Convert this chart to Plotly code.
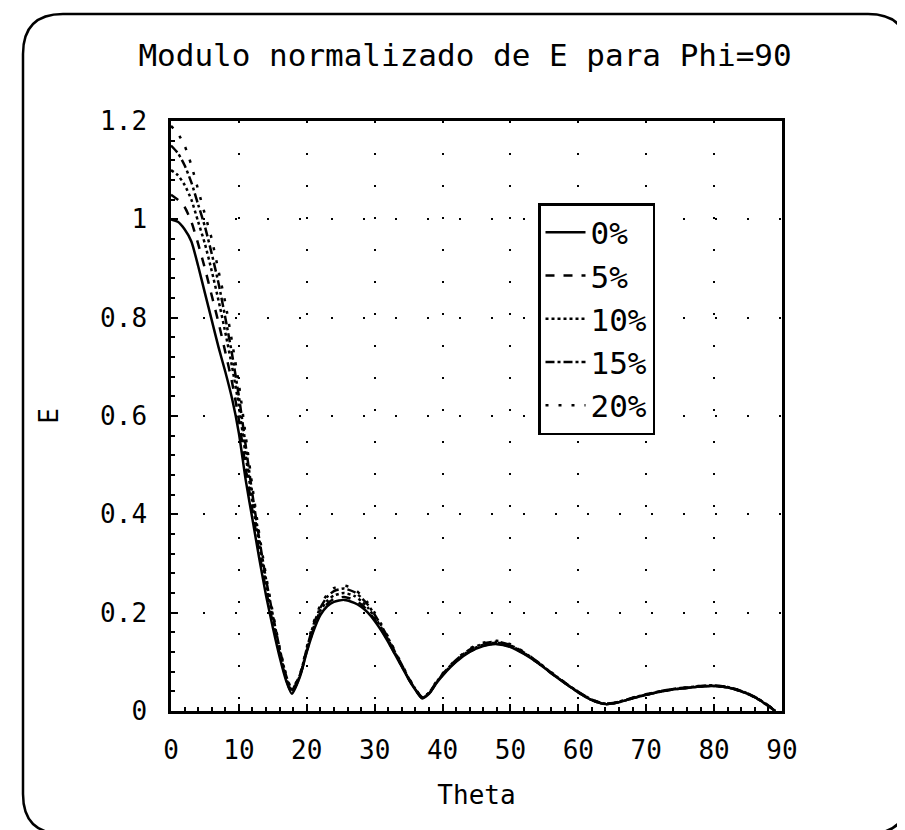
import plotly.graph_objects as go

theta = [0, 1, 2, 3, 4, 5, 6, 7, 8, 9,
         10, 11, 12, 13, 14, 15, 16, 17, 17.8, 19,
         20, 21, 22, 23, 24, 25.5, 27, 28, 29, 30,
         31, 32, 33, 34, 35, 36, 37, 38, 39, 40,
         42, 44, 46, 48, 50, 52, 54, 56, 58, 60,
         62, 64, 66, 68, 70, 72, 74, 76, 78, 80,
         82, 84, 86, 88, 89]

e_0 = [1.0, 0.995, 0.98, 0.955, 0.905, 0.85, 0.795, 0.74, 0.69, 0.635,
       0.565, 0.47, 0.39, 0.31, 0.235, 0.17, 0.11, 0.06, 0.035, 0.07,
       0.12, 0.163, 0.195, 0.213, 0.222, 0.226, 0.22, 0.212, 0.2, 0.183,
       0.163, 0.14, 0.115, 0.09, 0.065, 0.043, 0.026, 0.035, 0.055, 0.072,
       0.1, 0.12, 0.132, 0.136, 0.13, 0.116, 0.098, 0.077, 0.057, 0.038,
       0.022, 0.014, 0.018, 0.026, 0.033, 0.039, 0.044, 0.047, 0.05, 0.051,
       0.048, 0.04, 0.028, 0.01, 0.0]

e_5 = [1.05, 1.04, 1.025, 0.995, 0.95, 0.9, 0.845, 0.79, 0.73, 0.668,
       0.592, 0.495, 0.407, 0.323, 0.246, 0.179, 0.116, 0.063, 0.037, 0.071,
       0.122, 0.166, 0.199, 0.218, 0.228, 0.232, 0.226, 0.217, 0.204, 0.186,
       0.165, 0.142, 0.116, 0.091, 0.065, 0.043, 0.026, 0.035, 0.055, 0.073,
       0.101, 0.121, 0.133, 0.137, 0.131, 0.117, 0.098, 0.077, 0.057, 0.038,
       0.022, 0.014, 0.018, 0.026, 0.033, 0.039, 0.044, 0.047, 0.05, 0.051,
       0.048, 0.04, 0.028, 0.01, 0.0]

e_10 = [1.1, 1.09, 1.07, 1.04, 0.995, 0.95, 0.895, 0.835, 0.77, 0.7,
        0.62, 0.52, 0.425, 0.338, 0.258, 0.188, 0.122, 0.066, 0.04, 0.072,
        0.124, 0.17, 0.204, 0.224, 0.235, 0.24, 0.234, 0.224, 0.21, 0.191,
        0.169, 0.145, 0.118, 0.092, 0.066, 0.044, 0.027, 0.036, 0.056, 0.074,
        0.102, 0.123, 0.135, 0.139, 0.133, 0.118, 0.099, 0.078, 0.057, 0.038,
        0.022, 0.014, 0.018, 0.026, 0.033, 0.039, 0.044, 0.047, 0.05, 0.051,
        0.048, 0.04, 0.028, 0.01, 0.0]

e_15 = [1.15, 1.135, 1.11, 1.075, 1.03, 0.985, 0.93, 0.87, 0.8, 0.725,
        0.64, 0.54, 0.44, 0.35, 0.268, 0.195, 0.127, 0.07, 0.043, 0.074,
        0.127, 0.176, 0.21, 0.232, 0.244, 0.249, 0.242, 0.231, 0.216, 0.196,
        0.173, 0.148, 0.12, 0.094, 0.067, 0.045, 0.028, 0.037, 0.057, 0.075,
        0.104, 0.125, 0.137, 0.141, 0.134, 0.119, 0.1, 0.078, 0.058, 0.039,
        0.023, 0.015, 0.019, 0.027, 0.034, 0.04, 0.045, 0.048, 0.051, 0.052,
        0.049, 0.041, 0.029, 0.011, 0.0]

e_20 = [1.19, 1.175, 1.15, 1.11, 1.06, 1.01, 0.96, 0.895, 0.83, 0.75,
        0.665, 0.56, 0.455, 0.36, 0.275, 0.2, 0.13, 0.072, 0.045, 0.075,
        0.13, 0.18, 0.215, 0.237, 0.25, 0.255, 0.248, 0.236, 0.22, 0.2,
        0.176, 0.15, 0.122, 0.095, 0.068, 0.045, 0.028, 0.037, 0.058, 0.076,
        0.105, 0.127, 0.139, 0.143, 0.136, 0.12, 0.1, 0.079, 0.058, 0.039,
        0.023, 0.015, 0.019, 0.027, 0.034, 0.04, 0.045, 0.048, 0.051, 0.052,
        0.049, 0.041, 0.029, 0.011, 0.0]

names = ["0%", "5%", "10%", "15%", "20%"]
series = [e_0, e_5, e_10, e_15, e_20]
dashes = ["solid", "dash", "dot", "dashdot", "3px,10px"]

x_ticks = [0, 10, 20, 30, 40, 50, 60, 70, 80, 90]
y_ticks = [0, 0.2, 0.4, 0.6, 0.8, 1, 1.2]
y_tick_text = ["0", "0.2", "0.4", "0.6", "0.8", "1", "1.2"]

FONT = "DejaVu Sans Mono"
W, H = 905, 830
L, R, T, B = 163, 774, 113, 703

fig = go.Figure()
for name, ys, d in zip(names, series, dashes):
    fig.add_trace(go.Scatter(
        x=theta, y=ys, name=name, mode="lines",
        line=dict(color="black", width=2.5, dash=d, shape="spline", smoothing=0.6),
    ))

# rounded outer frame (pixel coords converted to paper coords)
def px(xp):
    return (xp - L) / (R - L)

def py(yp):
    return (B - yp) / (B - T)

x0, x1, y0, y1, r = 15, 900, 6, 826, 40
path = (
    f"M {px(x0 + r)},{py(y0)} L {px(x1 - r)},{py(y0)} "
    f"Q {px(x1)},{py(y0)} {px(x1)},{py(y0 + r)} "
    f"L {px(x1)},{py(y1 - r)} Q {px(x1)},{py(y1)} {px(x1 - r)},{py(y1)} "
    f"L {px(x0 + r)},{py(y1)} Q {px(x0)},{py(y1)} {px(x0)},{py(y1 - r)} "
    f"L {px(x0)},{py(y0 + r)} Q {px(x0)},{py(y0)} {px(x0 + r)},{py(y0)} Z"
)
fig.add_shape(type="path", path=path, xref="paper", yref="paper",
              line=dict(color="black", width=2.5), layer="below")

axis_common = dict(
    showline=True, linecolor="black", linewidth=2.5, mirror=True,
    ticks="inside", ticklen=7, tickwidth=1.5, tickcolor="black",
    showgrid=True, gridcolor="black", gridwidth=1.5, griddash="2px,30px",
    zeroline=False,
    tickfont=dict(family=FONT, size=26, color="black"),
    title_font=dict(family=FONT, size=26, color="black"),
)

fig.update_layout(
    width=W, height=H,
    margin=dict(l=L, r=W - R, t=T, b=H - B),
    paper_bgcolor="white", plot_bgcolor="white",
    font=dict(family=FONT, color="black"),
    title=dict(text="Modulo normalizado de E para Phi=90",
               x=0.505, xanchor="center", y=1 - 47 / H, yanchor="middle",
               font=dict(family=FONT, size=31, color="black")),
    xaxis=dict(range=[0, 90], tickvals=x_ticks, ticktext=[str(v) for v in x_ticks],
               title=dict(text="Theta", standoff=22), ticklabelstandoff=14,
               minor=dict(ticks="inside", ticklen=4, dtick=2, tickcolor="black", showgrid=False),
               **axis_common),
    yaxis=dict(range=[0, 1.2], tickvals=y_ticks, ticktext=y_tick_text,
               title=dict(text="E", standoff=34), ticklabelstandoff=16,
               minor=dict(ticks="inside", ticklen=4, dtick=0.04, tickcolor="black", showgrid=False),
               **axis_common),
    legend=dict(x=px(530), y=py(195), xanchor="left", yanchor="top",
                bordercolor="black", borderwidth=2.5, bgcolor="white",
                font=dict(family=FONT, size=31, color="black"),
                tracegroupgap=0, itemwidth=40),
    showlegend=True,
)

fig.write_html("out.html")
